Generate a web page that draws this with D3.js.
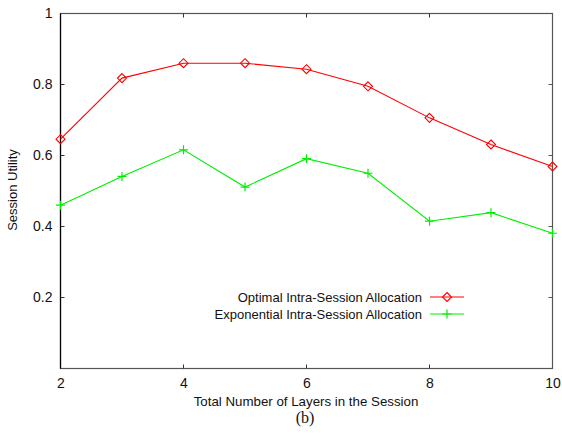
<!DOCTYPE html>
<html>
<head>
<meta charset="utf-8">
<script src="https://cdn.jsdelivr.net/npm/d3@7"></script>
<style>
  html, body { margin: 0; padding: 0; background: #fff; }
  svg { display: block; }
  text { font-family: Arial, "Liberation Sans", Helvetica, sans-serif; fill: #111; }
</style>
</head>
<body>
<svg id="chart" width="562" height="448"></svg>
<script>
// Number of layers in the session
const layers = [2, 3, 4, 5, 6, 7, 8, 9, 10];
// Session utility for each allocation scheme
const optimalUtility = [0.646, 0.818, 0.860, 0.860, 0.843, 0.795, 0.706, 0.631, 0.569];
const exponentialUtility = [0.460, 0.541, 0.616, 0.511, 0.591, 0.550, 0.415, 0.439, 0.381];
const xTicks = [2, 4, 6, 8, 10];
const yTicks = [0.2, 0.4, 0.6, 0.8, 1];
const seriesNames = ["Optimal Intra-Session Allocation", "Exponential Intra-Session Allocation"];

const svg = d3.select("#chart");
const plotLeft = 60.5, plotRight = 552.5, plotTop = 13.5, plotBottom = 368.5;

const x = d3.scaleLinear().domain([2, 10]).range([plotLeft, plotRight]);
const y = d3.scaleLinear().domain([0, 1]).range([plotBottom, plotTop]);

// Frame
svg.append("rect")
  .attr("x", plotLeft).attr("y", plotTop)
  .attr("width", plotRight - plotLeft).attr("height", plotBottom - plotTop)
  .attr("fill", "none").attr("stroke", "#555").attr("stroke-width", 1.2);
svg.append("line")
  .attr("x1", plotLeft).attr("x2", plotLeft).attr("y1", plotTop).attr("y2", plotBottom)
  .attr("stroke", "#000").attr("stroke-width", 1.2);

// Inward ticks along all four sides
const tickLen = 4;
const innerX = [4, 6, 8];
const innerY = [0.2, 0.4, 0.6, 0.8];
innerX.forEach(v => {
  svg.append("line").attr("x1", x(v)).attr("x2", x(v)).attr("y1", plotBottom).attr("y2", plotBottom - tickLen).attr("stroke", "#333");
  svg.append("line").attr("x1", x(v)).attr("x2", x(v)).attr("y1", plotTop).attr("y2", plotTop + tickLen).attr("stroke", "#333");
});
innerY.forEach(v => {
  svg.append("line").attr("x1", plotLeft).attr("x2", plotLeft + tickLen).attr("y1", y(v)).attr("y2", y(v)).attr("stroke", "#333");
  svg.append("line").attr("x1", plotRight).attr("x2", plotRight - tickLen).attr("y1", y(v)).attr("y2", y(v)).attr("stroke", "#555");
});

// Tick labels
const xAxis = d3.axisBottom(x).tickValues(xTicks).tickSize(0).tickPadding(10).tickFormat(d3.format("d"));
const gx = svg.append("g").attr("transform", `translate(0,${plotBottom})`).call(xAxis);
gx.select(".domain").remove();
gx.selectAll("text").style("font-size", "14px").attr("fill", "#111")
  .attr("font-family", "Arial, 'Liberation Sans', sans-serif");

const yAxis = d3.axisLeft(y).tickValues(yTicks).tickSize(0).tickPadding(8).tickFormat(d => d === 1 ? "1" : d3.format(".1f")(d));
const gy = svg.append("g").attr("transform", `translate(${plotLeft},0)`).call(yAxis);
gy.select(".domain").remove();
gy.selectAll("text").style("font-size", "14px").attr("fill", "#111")
  .attr("font-family", "Arial, 'Liberation Sans', sans-serif");

// Axis titles
svg.append("text")
  .attr("x", 306).attr("y", 406)
  .attr("text-anchor", "middle")
  .style("font-size", "13.3px")
  .text("Total Number of Layers in the Session");
svg.append("text")
  .attr("transform", "translate(17,190) rotate(-90)")
  .attr("text-anchor", "middle")
  .style("font-size", "13px")
  .text("Session Utility");
svg.append("text")
  .attr("x", 305).attr("y", 423)
  .attr("text-anchor", "middle")
  .style("font-family", "'Liberation Serif', 'Times New Roman', serif")
  .style("font-size", "16px")
  .text("(b)");

// Series
const line = d3.line().x((d, i) => x(layers[i])).y(d => y(d));
const red = "#ff0000", green = "#00ee00";

function diamond(g, cx, cy, color) {
  const r = 4.5;
  g.append("path")
    .attr("d", `M${cx},${cy - r}L${cx + r},${cy}L${cx},${cy + r}L${cx - r},${cy}Z`)
    .attr("fill", "none").attr("stroke", color).attr("stroke-width", 1.1);
}
function plus(g, cx, cy, color) {
  const r = 4.5;
  g.append("path")
    .attr("d", `M${cx - r},${cy}H${cx + r}M${cx},${cy - r}V${cy + r}`)
    .attr("fill", "none").attr("stroke", color).attr("stroke-width", 1.2);
}

const gRed = svg.append("g");
gRed.append("path").datum(optimalUtility).attr("d", line)
  .attr("fill", "none").attr("stroke", red).attr("stroke-width", 1.1);
optimalUtility.forEach((v, i) => diamond(gRed, x(layers[i]), y(v), red));

const gGreen = svg.append("g");
gGreen.append("path").datum(exponentialUtility).attr("d", line)
  .attr("fill", "none").attr("stroke", green).attr("stroke-width", 1.1);
exponentialUtility.forEach((v, i) => plus(gGreen, x(layers[i]), y(v), green));

// Legend
const legendRows = [
  { name: seriesNames[0], color: red, mark: diamond, yPos: 297 },
  { name: seriesNames[1], color: green, mark: plus, yPos: 314 }
];
legendRows.forEach(r => {
  svg.append("text")
    .attr("x", 422).attr("y", r.yPos).attr("dy", "0.35em")
    .attr("text-anchor", "end")
    .style("font-size", "13px")
    .text(r.name);
  svg.append("line")
    .attr("x1", 430).attr("x2", 464).attr("y1", r.yPos).attr("y2", r.yPos)
    .attr("stroke", r.color).attr("stroke-width", 1.1);
  r.mark(svg, 447, r.yPos, r.color);
});
</script>
</body>
</html>
